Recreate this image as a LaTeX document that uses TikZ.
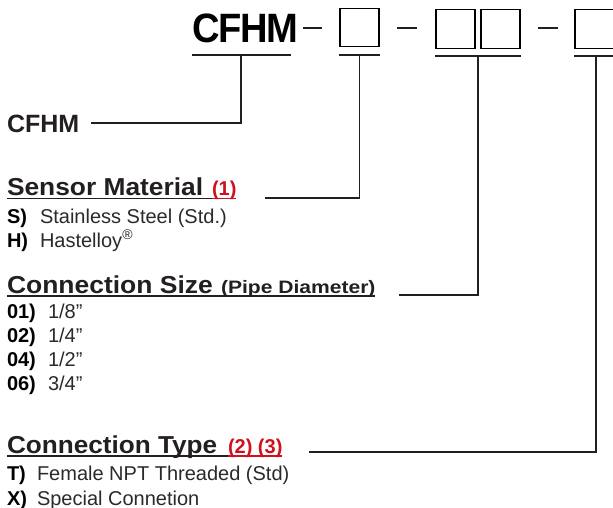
\documentclass[tikz,border=0pt]{standalone}
\usepackage{fontspec}
\setmainfont{Liberation Sans}
\usepackage{graphicx}
\usetikzlibrary{calc}
\definecolor{ink}{HTML}{231F20}
\definecolor{redn}{HTML}{D0101A}
\definecolor{bodyc}{HTML}{2A2A2A}
\tikzset{
  txt/.style={anchor=base west, inner sep=0pt, outer sep=0pt},
  bigcode/.style={txt, text=black, font=\fontsize{41}{46}\selectfont\bfseries},
  codelabel/.style={txt, text=ink, font=\fontsize{25}{28}\selectfont\bfseries},
  head/.style={txt, text=ink, font=\fontsize{24.5}{28}\selectfont\bfseries},
  subhead/.style={txt, text=ink, font=\fontsize{18}{22}\selectfont\bfseries},
  note/.style={txt, text=redn, font=\fontsize{20}{24}\selectfont\bfseries},
  key/.style={txt, text=black, font=\fontsize{20}{24}\selectfont\bfseries},
  val/.style={txt, text=bodyc, font=\fontsize{20}{24}\selectfont},
  codebox/.style={draw=black, line width=1.4pt, minimum width=39pt, minimum height=38.5pt, inner sep=0pt},
  conn/.style={draw=ink, line width=1.3pt},
  uline/.style={line width=1.4pt},
}
\begin{document}
\begin{tikzpicture}[x=1pt,y=-1pt]
\useasboundingbox (0,0) rectangle (613,508);
\clip (0,0) rectangle (613,508);

% --- top code line
\node[bigcode] (code) at (192,43) {\scalebox{0.93}[1]{C\kern-1.5pt F\kern-1pt H\kern-1.5pt M}};
\node[codebox] (b1) at (359.5,27.5) {};
\node[codebox] (b2a) at (455.5,29) {};
\node[codebox] (b2b) at (500.5,29) {};
\node[codebox] (b3) at (594.5,29) {};
\coordinate (d1a) at (303,28); \coordinate (d1b) at (322,28);
\coordinate (d2a) at (397,28); \coordinate (d2b) at (417,28);
\coordinate (d3a) at (538,28); \coordinate (d3b) at (558,28);
\draw[conn, line width=1.2pt] (d1a) -- (d1b);
\draw[conn, line width=1.2pt] (d2a) -- (d2b);
\draw[conn, line width=1.2pt] (d3a) -- (d3b);

% --- underlines below the code fields
\coordinate (u0a) at (192,55); \coordinate (u0b) at (291,55);
\coordinate (u0) at (241,55);
\draw[conn] (u0a) -- (u0b);
\draw[conn] ([yshift=-7.5pt]b1.south west) -- ([yshift=-7.5pt]b1.south east);
\draw[conn] ([yshift=-7pt]b2a.south west) -- ([yshift=-7pt]b2b.south east);
\draw[conn] ([yshift=-7pt]b3.south west) -- ([yshift=-7pt]b3.south east);
\coordinate (u1) at ([yshift=-7.5pt]b1.south);
\coordinate (u2) at ($([yshift=-7pt]b2a.south east)!0.5!([yshift=-7pt]b2b.south west)$);
\coordinate (u3) at ([xshift=1.5pt,yshift=-7pt]b3.south);

% --- labels
\node[codelabel] (lab0) at (7,133) {CFHM};
\coordinate (e0) at (91,123);

\node[head] (h1) at (7,195) {\scalebox{1.075}[1]{Sensor Material}};
\node[note] (n1) at (212,195) {(1)};
\coordinate (e1) at (265,198);
\node[key] (k11) at (7,223) {S)};
\node[val] (v11) at (40,223) {Stainless Steel (Std.)};
\node[key] (k12) at (7,247) {H)};
\node[val] (v12) at (40,247) {Hastelloy\textsuperscript{®}};

\node[head] (h2) at (7,293) {\scalebox{1.08}[1]{Connection Size}};
\node[subhead] (n2) at (221,293) {\scalebox{1.17}[1]{(Pipe Diameter)}};
\coordinate (e2) at (399,295);
\node[key] (k21) at (7,318) {01)};
\node[val] (v21) at (48,318) {1/8”};
\node[key] (k22) at (7,342) {02)};
\node[val] (v22) at (48,342) {1/4”};
\node[key] (k23) at (7,366) {04)};
\node[val] (v23) at (48,366) {1/2”};
\node[key] (k24) at (7,390) {06)};
\node[val] (v24) at (48,390) {3/4”};

\node[head] (h3) at (7,453) {\scalebox{1.067}[1]{Connection Type}};
\node[note] (n3) at (228,453) {(2) (3)};
\coordinate (e3) at (309,452);
\node[key] (k31) at (7,480) {T)};
\node[val] (v31) at (37,480) {Female NPT Threaded (Std)};
\node[key] (k32) at (7,505) {X)};
\node[val] (v32) at (37,505) {Special Connetion};

% --- heading underlines
\draw[uline, ink] ([yshift=-3.5pt]h1.base west) -- ([yshift=-3.5pt]n1.base west);
\draw[uline, redn] ([yshift=-3.5pt]n1.base west) -- ([yshift=-3.5pt]n1.base east);
\draw[uline, ink] ([yshift=-3pt]h2.base west) -- ([yshift=-3pt]n2.base east);
\draw[uline, ink] ([yshift=-3pt]h3.base west) -- ([yshift=-3pt]n3.base west);
\draw[uline, redn] ([yshift=-3pt]n3.base west) -- ([yshift=-3pt]n3.base east);

% --- connectors
\draw[conn] (u0) |- (e0);
\draw[conn] (u1) |- (e1);
\draw[conn] (u2) |- (e2);
\draw[conn] (u3) |- (e3);
\end{tikzpicture}
\end{document}
